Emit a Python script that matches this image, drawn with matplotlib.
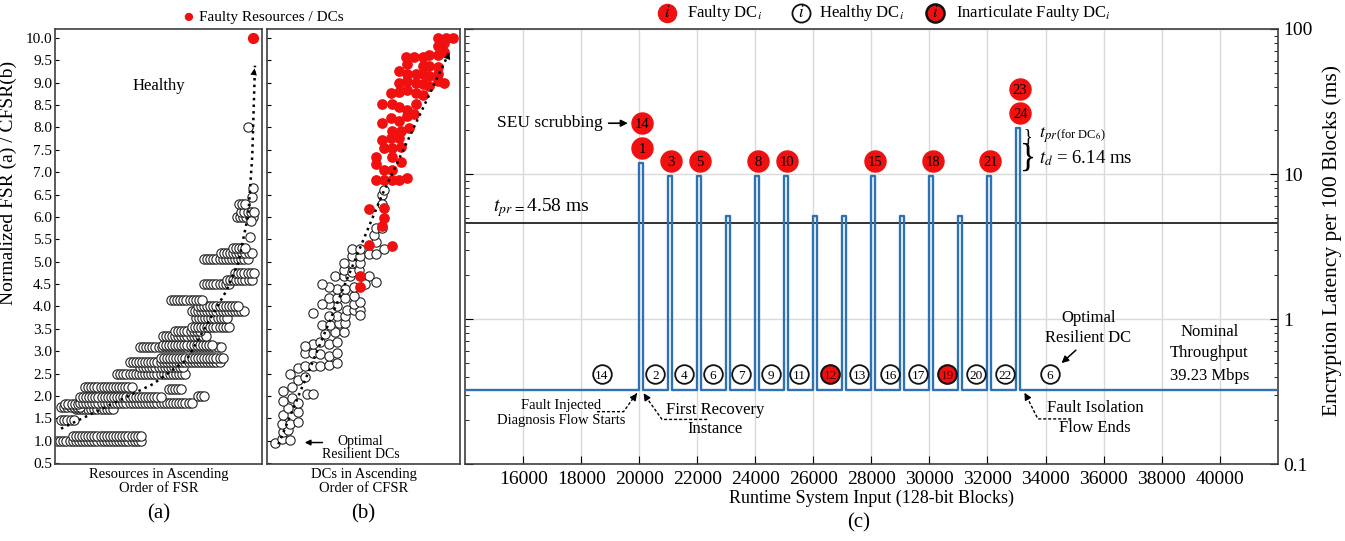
import numpy as np
import matplotlib
matplotlib.use('Agg')
import matplotlib.pyplot as plt

plt.rcParams['font.family'] = ['Liberation Serif', 'DejaVu Serif']
plt.rcParams['mathtext.fontset'] = 'stix'

# ---------------- panel (a): runs of resources sharing one normalized FSR value
a_row_level = [1.00, 1.10, 1.47, 1.70, 1.75, 1.82, 1.85, 1.97, 2.00, 2.15, 2.20, 2.50, 2.65,
               2.75, 2.85, 3.10, 3.15, 3.35, 3.45, 3.55, 3.75, 3.90, 4.00, 4.15, 4.50, 4.60,
               4.75, 5.05, 5.20, 5.30, 6.00, 6.10, 6.30]
a_row_start = [1, 8.5, 3, 10, 3, 5, 12, 12, 69, 55, 14.5, 30, 41, 36, 51, 41, 52, 52, 58, 66,
               68, 66, 69, 56, 72, 83, 87, 72, 80, 86, 88, 90, 89]
a_row_end = [42, 42, 10, 28, 12, 12, 67, 52, 73, 62, 37, 63, 63, 80, 82, 80, 77, 73, 70, 85,
             83, 92, 89, 72, 85, 96, 96, 94, 96, 93, 96, 96, 93]
a_single_x = [94.0, 94.5, 95.0, 95.5, 93.4]
a_single_y = [5.55, 5.90, 6.45, 6.65, 8.00]
a_faulty_x = [95.8]
a_faulty_y = [10.0]
a_trend_x = [2.9, 47.5, 63.6, 73.3, 82.9, 88.6, 93.4, 95.3, 96.6]
a_trend_y = [1.27, 2.27, 2.81, 3.59, 4.36, 4.98, 6.06, 7.37, 9.38]

# ---------------- panel (b): DCs in ascending order of CFSR
b_healthy_x = [4.2, 7.6, 12.0, 8.5, 11.1, 7.6, 12.0, 8.5, 16.3, 11.1, 16.3, 8.5, 12.8, 16.3,
               20.7, 8.5, 12.8, 16.3, 19.8, 24.1, 12.0, 16.3, 19.8, 24.1, 27.6, 31.9, 36.3,
               19.8, 24.1, 27.6, 31.9, 36.3, 24.1, 27.6, 31.9, 36.3, 19.8, 30.2, 35.4, 39.8,
               28.5, 32.8, 37.2, 36.3, 40.6, 40.6, 31.9, 41.5, 45.0, 48.4, 48.4, 45.0, 48.4,
               36.3, 31.9, 24.1, 28.5, 31.9, 36.3, 40.6, 45.0, 36.3, 40.6, 45.0, 31.9, 28.5,
               35.4, 39.8, 43.2, 39.8, 44.1, 47.6, 52.8, 51.0, 56.3, 44.1, 48.4, 39.8, 44.1,
               48.4, 44.1, 48.4, 52.8, 56.3, 60.6, 56.3, 55.4, 56.3, 59.7, 59.7, 60.6, 59.7]
b_healthy_y = [0.96, 1.04, 1.02, 1.19, 1.23, 1.38, 1.38, 1.58, 1.42, 1.73, 1.65, 1.89, 1.96,
               1.85, 2.04, 2.12, 2.19, 2.35, 2.43, 2.04, 2.50, 2.62, 2.66, 2.66, 2.66, 2.70,
               2.74, 2.97, 2.97, 2.93, 2.89, 2.97, 3.16, 3.20, 3.16, 3.20, 3.12, 3.39, 3.43,
               3.43, 3.59, 3.59, 3.62, 3.78, 3.62, 3.78, 3.78, 3.93, 3.93, 3.93, 3.82, 4.05,
               4.09, 4.01, 4.05, 3.86, 4.05, 4.20, 4.20, 4.20, 4.24, 4.40, 4.40, 4.44, 4.44,
               4.51, 4.67, 4.67, 4.67, 4.82, 4.78, 4.82, 4.67, 4.51, 4.55, 4.98, 4.98, 4.98,
               5.13, 5.13, 5.29, 5.29, 5.17, 5.17, 5.29, 5.44, 5.60, 5.75, 5.75, 6.48, 6.60,
               6.29]
b_faulty_x = [52.8, 48.4, 48.4, 64.9, 52.8, 60.6, 60.6, 59.7, 56.3, 60.6, 64.9, 68.4, 72.7,
              56.3, 56.3, 60.6, 64.9, 69.3, 64.9, 60.6, 64.9, 69.3, 68.4, 64.1, 59.7, 64.9,
              69.3, 73.6, 59.7, 64.1, 68.4, 72.7, 76.2, 77.1, 72.7, 68.4, 64.9, 59.7, 64.1,
              68.4, 72.7, 77.1, 80.6, 68.4, 72.7, 77.1, 80.6, 84.0, 88.4, 91.8, 72.7, 77.1,
              80.6, 84.0, 88.4, 80.6, 84.0, 88.4, 72.7, 68.4, 76.2, 80.6, 84.0, 88.4, 91.8,
              71.9, 88.4, 91.8, 88.4, 92.7, 96.2, 89.2]
b_faulty_y = [5.38, 4.67, 4.44, 5.36, 6.17, 6.21, 5.98, 5.79, 6.83, 6.83, 6.83, 6.83, 6.87,
              7.18, 7.33, 7.06, 7.06, 7.22, 7.33, 7.53, 7.53, 7.57, 7.76, 7.76, 7.72, 7.91,
              7.91, 7.99, 8.11, 8.22, 8.15, 8.26, 8.30, 8.53, 8.38, 8.45, 8.53, 8.53, 8.76,
              8.80, 8.84, 8.76, 8.72, 9.00, 9.03, 9.00, 8.96, 8.92, 9.03, 9.00, 9.19, 9.19,
              9.19, 9.15, 9.19, 9.38, 9.38, 9.34, 9.42, 9.27, 9.57, 9.57, 9.61, 9.61, 9.69,
              9.57, 9.81, 9.88, 10.0, 10.0, 10.0, 9.85]
b_trend_x = [5.9, 59.7, 95.0]
b_trend_y = [0.92, 6.50, 9.73]

# ---------------- panel (c): latency trace during fault isolation
spike_start = [20000, 21000, 22000, 23000, 24000, 25000, 26000, 27000, 28000, 29000,
               30000, 31000, 32000, 33000]
spike_peak = [11.9, 9.7, 9.7, 5.1, 9.7, 9.7, 5.1, 5.1, 9.7, 5.1, 9.7, 5.1, 9.7, 20.7]
spike_width = 130
nominal_latency = 0.326
t_pr = 4.58

faulty_dc = [14, 1, 3, 5, 8, 10, 15, 18, 21, 24, 23]
faulty_x = [20090, 20090, 21095, 22085, 24100, 25100, 28130, 30110, 32100, 33126, 33126]
faulty_y = [22.4, 15.0, 12.35, 12.35, 12.35, 12.35, 12.35, 12.35, 12.35, 26.2, 38.4]
healthy_dc = [14, 2, 4, 6, 7, 9, 11, 13, 16, 17, 20, 22, 6]
healthy_x = [18710, 20550, 21555, 22545, 23515, 24525, 25505, 27575, 28645, 29615, 31605,
             32610, 34160]
inarticulate_dc = [12, 19]
inarticulate_x = [26575, 30605]
dc_row_y = 0.416

RED = '#f01010'
BLUE = '#2e72b4'
SPINE = '#404040'

fig = plt.figure(figsize=(13.45, 5.41), dpi=100)
ax_a = fig.add_axes([0.0409, 0.1423, 0.1539, 0.8041])
ax_b = fig.add_axes([0.1985, 0.1423, 0.1435, 0.8041])
ax_c = fig.add_axes([0.3459, 0.1423, 0.6040, 0.8041])

for ax in (ax_a, ax_b, ax_c):
    for sp in ax.spines.values():
        sp.set_color(SPINE)
        sp.set_linewidth(1.2)

# ---- (a)
for lev, x0, x1 in zip(a_row_level, a_row_start, a_row_end):
    xs = np.arange(x0, x1 + 0.01, 1.5)
    ax_a.scatter(xs, np.full(len(xs), lev), s=45, facecolor='white', edgecolor='#222222',
                 linewidth=0.8, zorder=2)
ax_a.scatter(a_single_x, a_single_y, s=45, facecolor='white', edgecolor='#222222',
             linewidth=0.8, zorder=2)
ax_a.scatter(a_faulty_x, a_faulty_y, s=50, color=RED, zorder=3)
ax_a.plot(a_trend_x, a_trend_y, ls=':', color='k', lw=1.8, zorder=4)
ax_a.annotate('', xy=(a_trend_x[-1], a_trend_y[-1]), xytext=(a_trend_x[-2], a_trend_y[-2] + 1.6),
              arrowprops=dict(arrowstyle='-|>', color='k', lw=0, mutation_scale=12))
ax_a.text(50, 8.93, 'Healthy', ha='center', va='center', fontsize=12)
ax_a.set_xlim(0, 100)
ax_a.set_ylim(0.48, 10.2)
ax_a.set_yticks(np.arange(0.5, 10.01, 0.5))
ax_a.set_yticklabels(['%.1f' % v for v in np.arange(0.5, 10.01, 0.5)])
ax_a.set_xticks([])
ax_a.tick_params(axis='y', direction='in', length=3, labelsize=11, pad=2)
ax_a.set_ylabel('Normalized FSR (a) / CFSR(b)', fontsize=14)
ax_a.yaxis.set_label_coords(-0.185, 0.645)
ax_a.set_xlabel('Resources in Ascending\nOrder of FSR', fontsize=10.5, labelpad=3,
                linespacing=1.05)
ax_a.text(0.5, -0.115, '(a)', transform=ax_a.transAxes, ha='center', va='center', fontsize=15)

# ---- (b)
ax_b.scatter(b_healthy_x, b_healthy_y, s=45, facecolor='white', edgecolor='#222222',
             linewidth=0.8, zorder=2)
ax_b.scatter(b_faulty_x, b_faulty_y, s=45, color=RED, zorder=3)
ax_b.plot(b_trend_x, b_trend_y, ls=':', color='k', lw=1.8, zorder=4)
ax_b.annotate('', xy=(b_trend_x[-1], b_trend_y[-1]), xytext=(b_trend_x[-1] - 3, b_trend_y[-1] - 0.35),
              arrowprops=dict(arrowstyle='-|>', color='k', lw=0, mutation_scale=12))
ax_b.annotate('', xy=(18.1, 0.96), xytext=(30.2, 0.96),
              arrowprops=dict(arrowstyle='-|>', color='k', lw=1.1, mutation_scale=8))
ax_b.text(48.4, 0.84, 'Optimal\nResilient DCs', ha='center', va='center', fontsize=10,
          linespacing=1.0)
ax_b.set_xlim(0, 100)
ax_b.set_ylim(0.48, 10.2)
ax_b.set_yticks(np.arange(0.5, 10.01, 0.5))
ax_b.set_yticklabels([])
ax_b.set_xticks([])
ax_b.tick_params(axis='y', direction='in', length=3)
ax_b.set_xlabel('DCs in Ascending\nOrder of CFSR', fontsize=10.5, labelpad=3, linespacing=1.05)
ax_b.text(0.5, -0.115, '(b)', transform=ax_b.transAxes, ha='center', va='center', fontsize=15)

# legend shared by (a) and (b)
fig.text(0.1396, 0.968, '\u25cf', color=RED, ha='center', va='center', fontsize=14)
fig.text(0.148, 0.968, 'Faulty Resources / DCs', ha='left', va='center', fontsize=11)

# ---- (c)
xs = [14000]
ys = [nominal_latency]
for s, p in zip(spike_start, spike_peak):
    xs += [s, s, s + spike_width, s + spike_width]
    ys += [nominal_latency, p, p, nominal_latency]
xs.append(42000)
ys.append(nominal_latency)
ax_c.plot(xs, ys, color=BLUE, lw=1.7, zorder=3)
ax_c.axhline(t_pr, color='#222222', lw=1.3, zorder=2)

ax_c.scatter(faulty_x, faulty_y, s=230, color=RED, zorder=5)
for n, x, y in zip(faulty_dc, faulty_x, faulty_y):
    ax_c.text(x, y, str(n), ha='center', va='center_baseline', fontsize=10.5, zorder=6)
ax_c.scatter(healthy_x, [dc_row_y] * len(healthy_x), s=180, facecolor='white',
             edgecolor='#111111', linewidth=1.3, zorder=5)
for n, x in zip(healthy_dc, healthy_x):
    ax_c.text(x, dc_row_y, str(n), ha='center', va='center_baseline', fontsize=9.5, zorder=6)
ax_c.scatter(inarticulate_x, [dc_row_y] * len(inarticulate_x), s=180, facecolor=RED,
             edgecolor='#111111', linewidth=1.5, zorder=5)
for n, x in zip(inarticulate_dc, inarticulate_x):
    ax_c.text(x, dc_row_y, str(n), ha='center', va='center_baseline', fontsize=9.5,
              color='#5a0000', zorder=6)

# annotations
ax_c.text(14955, 5.83, r'$t_{pr\,=}$4.58 ms', fontsize=14, va='center', ha='left')
ax_c.annotate('SEU scrubbing', xy=(19700, 22.4), xytext=(18750, 22.4), ha='right',
              va='center', fontsize=12.5,
              arrowprops=dict(arrowstyle='-|>', color='k', lw=1.2, mutation_scale=10))
ax_c.text(33391, 18.1, '}', fontsize=13, ha='center', va='center')
ax_c.text(33391, 12.9, '}', fontsize=24, ha='center', va='center')
ax_c.text(33782, 18.6, r'$t_{pr}$', fontsize=13, ha='left', va='center')
ax_c.text(34370, 18.6, r'(for DC$_6$)', fontsize=9, ha='left', va='center')
ax_c.text(33782, 12.9, r'$t_d$ = 6.14 ms', fontsize=13.5, ha='left', va='center')

dash = (0, (2.2, 1.4))
ax_c.text(17293, 0.255, 'Fault Injected', fontsize=10.5, ha='center', va='center')
ax_c.text(17293, 0.199, 'Diagnosis Flow Starts', fontsize=10.5, ha='center', va='center')
ax_c.plot([18540, 19458, 19850], [0.2296, 0.2296, 0.296], color='k', lw=1, ls=dash)
ax_c.annotate('', xy=(19921, 0.3075), xytext=(19840, 0.292),
              arrowprops=dict(arrowstyle='-|>', color='k', lw=1, mutation_scale=10))

ax_c.text(22625, 0.2358, 'First Recovery', fontsize=12, ha='center', va='center')
ax_c.text(22625, 0.1744, 'Instance', fontsize=12, ha='center', va='center')
ax_c.plot([22338, 20784, 20230], [0.203, 0.203, 0.290], color='k', lw=1, ls=dash)
ax_c.annotate('', xy=(20148, 0.3075), xytext=(20240, 0.288),
              arrowprops=dict(arrowstyle='-|>', color='k', lw=1, mutation_scale=10))

ax_c.text(35705, 0.242, 'Fault Isolation', fontsize=12, ha='center', va='center')
ax_c.text(35705, 0.178, 'Flow Ends', fontsize=12, ha='center', va='center')
ax_c.plot([34886, 33736, 33350], [0.2047, 0.2047, 0.292], color='k', lw=1, ls=dash)
ax_c.annotate('', xy=(33274, 0.3101), xytext=(33360, 0.289),
              arrowprops=dict(arrowstyle='-|>', color='k', lw=1, mutation_scale=10))

ax_c.text(35470, 1.01, 'Optimal', fontsize=12, ha='center', va='center')
ax_c.text(35470, 0.736, 'Resilient DC', fontsize=12, ha='center', va='center')
ax_c.annotate('', xy=(34482, 0.482), xytext=(35118, 0.628),
              arrowprops=dict(arrowstyle='-|>', color='k', lw=1.1, mutation_scale=10))

ax_c.text(39653, 0.813, 'Nominal', fontsize=12, ha='center', va='center')
ax_c.text(39653, 0.583, 'Throughput', fontsize=12, ha='center', va='center')
ax_c.text(39653, 0.405, '39.23 Mbps', fontsize=12, ha='center', va='center')

# legend for (c)
leg_y = 1.037
ax_c.scatter([0.248], [leg_y], s=170, color=RED, transform=ax_c.transAxes, clip_on=False)
ax_c.scatter([0.413], [leg_y], s=170, facecolor='white', edgecolor='#111111', linewidth=1.3,
             transform=ax_c.transAxes, clip_on=False)
ax_c.scatter([0.578], [leg_y], s=170, facecolor=RED, edgecolor='#111111', linewidth=1.8,
             transform=ax_c.transAxes, clip_on=False)
for lx in (0.248, 0.413, 0.578):
    ax_c.text(lx, leg_y, r'$i$', transform=ax_c.transAxes, ha='center', va='center',
              fontsize=12)
ax_c.text(0.273, leg_y, r'Faulty DC$_i$', transform=ax_c.transAxes, va='center', fontsize=12)
ax_c.text(0.435, leg_y, r'Healthy DC$_i$', transform=ax_c.transAxes, va='center', fontsize=12)
ax_c.text(0.604, leg_y, r'Inarticulate Faulty DC$_i$', transform=ax_c.transAxes, va='center',
          fontsize=12)

ax_c.set_xlim(14000, 42000)
ax_c.set_yscale('log')
ax_c.set_ylim(0.1, 100)
ax_c.set_xticks(np.arange(16000, 40001, 2000))
ax_c.set_yticks([0.1, 1, 10, 100])
ax_c.set_yticklabels(['0.1', '1', '10', '100'])
ax_c.yaxis.set_minor_locator(matplotlib.ticker.LogLocator(base=10, subs=np.arange(2, 10)))
ax_c.yaxis.set_minor_formatter(matplotlib.ticker.NullFormatter())
ax_c.yaxis.tick_right()
ax_c.yaxis.set_label_position('right')
ax_c.tick_params(axis='y', which='both', direction='in', left=True, right=True,
                 labelleft=False, labelright=True)
ax_c.tick_params(axis='y', which='major', length=6, labelsize=14, pad=4)
ax_c.tick_params(axis='y', which='minor', length=3)
ax_c.tick_params(axis='x', direction='in', length=6, labelsize=14, pad=5)
ax_c.grid(True, which='major', color='#dadada', lw=1)
ax_c.set_axisbelow(True)
ax_c.set_xlabel('Runtime System Input (128-bit Blocks)', fontsize=13, labelpad=1)
ax_c.set_ylabel('Encryption Latency per 100 Blocks (ms)', fontsize=15.5)
ax_c.yaxis.set_label_coords(1.0545, 0.513)
ax_c.text(0.484, -0.135, '(c)', transform=ax_c.transAxes, ha='center', va='center', fontsize=15)

fig.savefig('out.png', dpi=100, facecolor='white')
